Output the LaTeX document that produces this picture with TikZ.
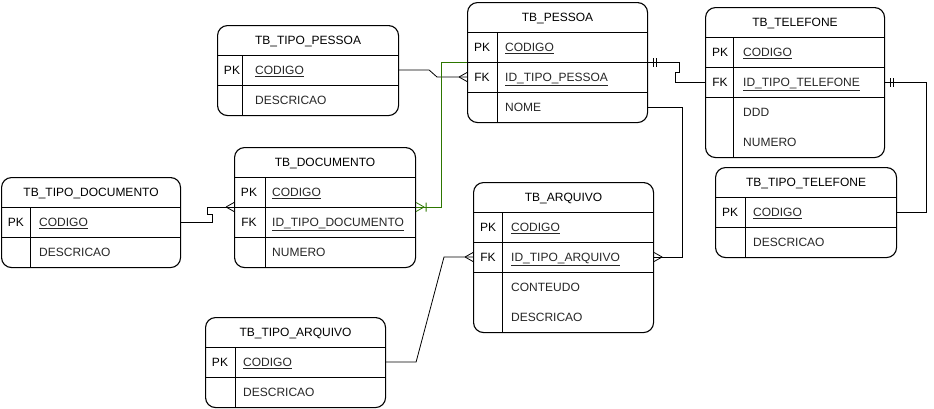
\documentclass[tikz,border=0pt]{standalone}
\usepackage{fontspec}
\setmainfont{Liberation Sans}
\usetikzlibrary{calc,positioning}

\definecolor{verdeer}{HTML}{2D7600}

\newcommand{\tabela}[6]{% nome, canto, largura, altura, coluna chave, titulo
	\node[tabbox, minimum width=#3pt, minimum height=#4pt] (#1) at #2 {};
	\node[titulo] (#1-t) at ([yshift=-15pt]#1.north) {#6};
	\draw[divisa] ([yshift=-30pt]#1.north west) -- ([yshift=-30pt]#1.north east);
	\draw[divisa] ([shift={(#5pt,-30pt)}]#1.north west) -- ([xshift=#5pt]#1.south west);
}
\newcommand{\campo}[4]{% tabela, linha, chave, texto
	\node[chave] (#1-k#2) at ([shift={(15pt,{-15pt-30pt*#2})}]#1.north west) {#3};
	\node[campo] (#1-c#2) at ([shift={(38pt,{-15pt-30pt*#2})}]#1.north west) {#4};
}
\newcommand{\separa}[2]{% tabela, linha
	\draw[divisa] ([yshift={-30pt-30pt*#2}]#1.north west) -- ([yshift={-30pt-30pt*#2}]#1.north east);
}

\begin{document}
\begin{tikzpicture}[x=1pt, y=-1pt,
		tabbox/.style={draw, line width=1.1pt, rounded corners=10pt, inner sep=0pt, anchor=north west},
		chave/.style={font=\fontsize{12}{14}\selectfont, inner sep=0pt, text height=8.6pt, text depth=0pt},
		titulo/.style={chave},
		campo/.style={chave, anchor=west, text=black!85},
		divisa/.style={line width=0.8pt},
		rel/.style={line width=0.8pt},
		verde/.style={rel, draw=verdeer},
		muitos/.pic={\draw[rel] (-8,0) -- (0,-4.5) (-8,0) -- (0,4.5);},
		um/.pic={\draw[rel] (-5,-4.5) -- (-5,4.5) (-8,-4.5) -- (-8,4.5);},
		ummuitos/.pic={\draw[rel] (-8,0) -- (0,-4.5) (-8,0) -- (0,4.5) (-10,-4.5) -- (-10,4.5);}]

	\useasboundingbox (0,0) rectangle (934,408);

	\tabela{tipopessoa}{(217,25)}{181}{90}{25}{TB\_TIPO\_PESSOA}
	\campo{tipopessoa}{1}{PK}{\underline{CODIGO}}
	\separa{tipopessoa}{1}
	\campo{tipopessoa}{2}{}{DESCRICAO}

	\tabela{pessoa}{(467,2)}{180}{120}{30}{TB\_PESSOA}
	\campo{pessoa}{1}{PK}{\underline{CODIGO}}
	\separa{pessoa}{1}
	\campo{pessoa}{2}{FK}{\underline{ID\_TIPO\_PESSOA}}
	\separa{pessoa}{2}
	\campo{pessoa}{3}{}{NOME}

	\tabela{telefone}{(705,7)}{179}{150}{28}{TB\_TELEFONE}
	\campo{telefone}{1}{PK}{\underline{CODIGO}}
	\separa{telefone}{1}
	\campo{telefone}{2}{FK}{\underline{ID\_TIPO\_TELEFONE}}
	\separa{telefone}{2}
	\campo{telefone}{3}{}{DDD}
	\campo{telefone}{4}{}{NUMERO}

	\tabela{tipodoc}{(1,177)}{179}{90}{29}{TB\_TIPO\_DOCUMENTO}
	\campo{tipodoc}{1}{PK}{\underline{CODIGO}}
	\separa{tipodoc}{1}
	\campo{tipodoc}{2}{}{DESCRICAO}

	\tabela{documento}{(234,147)}{181}{120}{31}{TB\_DOCUMENTO}
	\campo{documento}{1}{PK}{\underline{CODIGO}}
	\separa{documento}{1}
	\campo{documento}{2}{FK}{\underline{ID\_TIPO\_DOCUMENTO}}
	\separa{documento}{2}
	\campo{documento}{3}{}{NUMERO}

	\tabela{arquivo}{(473,182)}{180}{150}{29}{TB\_ARQUIVO}
	\campo{arquivo}{1}{PK}{\underline{CODIGO}}
	\separa{arquivo}{1}
	\campo{arquivo}{2}{FK}{\underline{ID\_TIPO\_ARQUIVO}}
	\separa{arquivo}{2}
	\campo{arquivo}{3}{}{CONTEUDO}
	\campo{arquivo}{4}{}{DESCRICAO}

	\tabela{tipotel}{(715,167)}{181}{90}{30}{TB\_TIPO\_TELEFONE}
	\campo{tipotel}{1}{PK}{\underline{CODIGO}}
	\separa{tipotel}{1}
	\campo{tipotel}{2}{}{DESCRICAO}

	\tabela{tipoarq}{(205,317)}{180}{90}{30}{TB\_TIPO\_ARQUIVO}
	\campo{tipoarq}{1}{PK}{\underline{CODIGO}}
	\separa{tipoarq}{1}
	\campo{tipoarq}{2}{}{DESCRICAO}

	% relacionamentos
	\draw[rel] (tipopessoa.east |- tipopessoa-c1) -- ++(30,0) -- ($(pessoa.west |- pessoa-c2)+(-30,0)$) -- (pessoa.west |- pessoa-c2);
	\pic at (pessoa.west |- pessoa-c2) {muitos};

	\draw[verde] ([yshift=-60pt]pessoa.north west) -- ++(-26,0) |- ([yshift=-60pt]documento.north east);
	\pic[rotate=180, color=verdeer] at ([yshift=-60pt]documento.north east) {ummuitos};

	\draw[rel] (tipodoc.east |- tipodoc-c1) -- ++(31,0) -- ++(0,-8) -- ++(-5,0) |- ([yshift=-60pt]documento.north west);
	\pic at ([yshift=-60pt]documento.north west) {muitos};

	\draw[rel] ([yshift=-60pt]pessoa.north east) -- ++(31,0) -- ++(0,10) -- ++(-4,0) |- (telefone.west |- telefone-c2);
	\pic[rotate=180] at ([yshift=-60pt]pessoa.north east) {um};

	\draw[rel] (pessoa.east |- pessoa-c3) -- ++(34,0) |- (arquivo.east |- arquivo-c2);
	\pic[rotate=180] at (arquivo.east |- arquivo-c2) {muitos};

	\draw[rel] (telefone.east |- telefone-c2) -- ++(41,0) |- (tipotel.east |- tipotel-c1);
	\pic[rotate=180] at (telefone.east |- telefone-c2) {um};

	\draw[rel] (tipoarq.east |- tipoarq-c1) -- ++(30,0) -- ($(arquivo.west |- arquivo-c2)+(-29,0)$) -- (arquivo.west |- arquivo-c2);
	\pic at (arquivo.west |- arquivo-c2) {muitos};

\end{tikzpicture}
\end{document}
